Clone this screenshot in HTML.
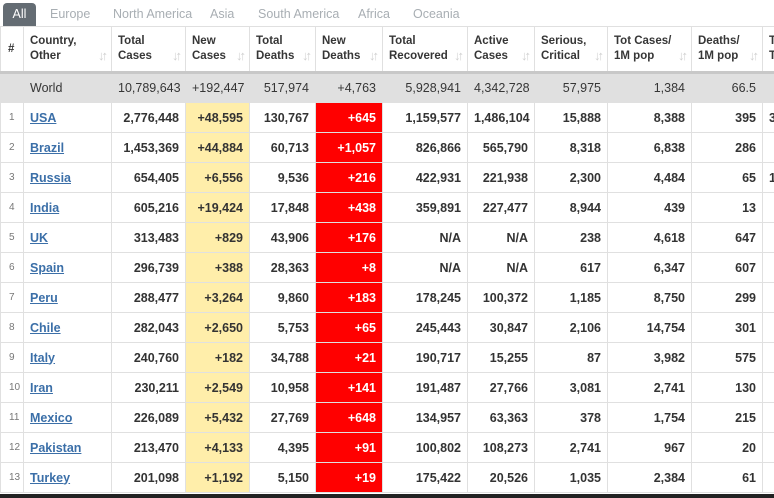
<!DOCTYPE html>
<html><head><meta charset="utf-8"><style>
html,body{margin:0;width:774px;height:498px;overflow:hidden;background:#fff;font-family:"Liberation Sans",Arial,sans-serif;position:relative}
.tabs{position:absolute;top:0;left:0;height:26px;width:774px}
.tab{position:absolute;top:7px;font-size:12.5px;color:#a8aeb3}
.all{position:absolute;left:3px;top:3px;width:33px;height:23px;background:#646c73;border-radius:4px 4px 0 0;color:#fff;font-size:12.5px;text-align:center;line-height:23px}
table{position:absolute;top:26px;left:0;border-collapse:collapse;table-layout:fixed;width:800px}
td,th{border:1px solid #e0e0e0;padding:0 6px;overflow:hidden;white-space:nowrap}
th{height:44px;font-size:11.5px;font-weight:bold;color:#363636;text-align:left;vertical-align:middle;line-height:15px;border-bottom:3px solid #c8c8c8;position:relative}
th .s{position:absolute;right:6px;bottom:8px;color:#d0d0d0;font-size:13px;font-weight:bold;letter-spacing:-3px}
td{height:29px;font-size:12.5px;text-align:right;font-weight:bold;color:#333}
tr.w td{background:#e0e0e0;font-weight:normal;color:#363636;height:28px}
td.n{font-size:10px;color:#777;font-weight:normal;text-align:left;padding-left:8px}
td.c{text-align:left}
td.c a{color:#3b6fa8;text-decoration:underline}
td.y{background:#ffeeaa}
td.r{background:#ff0000;color:#fff}
tr.w td.y,tr.w td.r{background:#e0e0e0;color:#363636}
.bar{position:absolute;left:0;top:494px;width:774px;height:4px;background:#222}
</style></head><body>
<div class="tabs">
<div class="all">All</div>
<div class="tab" style="left:50px">Europe</div>
<div class="tab" style="left:113px">North America</div>
<div class="tab" style="left:210px">Asia</div>
<div class="tab" style="left:258px">South America</div>
<div class="tab" style="left:358px">Africa</div>
<div class="tab" style="left:413px">Oceania</div>
</div>
<table>
<colgroup><col style="width:23px"><col style="width:88px"><col style="width:74px"><col style="width:64px"><col style="width:66px"><col style="width:67px"><col style="width:85px"><col style="width:67px"><col style="width:73px"><col style="width:84px"><col style="width:71px"><col style="width:38px"></colgroup>
<tr><th style="padding-left:7px">#</th><th>Country,<br>Other<span class="s">↓↑</span></th><th>Total<br>Cases<span class="s">↓↑</span></th><th>New<br>Cases<span class="s">↓↑</span></th><th>Total<br>Deaths<span class="s">↓↑</span></th><th>New<br>Deaths<span class="s">↓↑</span></th><th>Total<br>Recovered<span class="s">↓↑</span></th><th>Active<br>Cases<span class="s">↓↑</span></th><th>Serious,<br>Critical<span class="s">↓↑</span></th><th>Tot Cases/<br>1M pop<span class="s">↓↑</span></th><th>Deaths/<br>1M pop<span class="s">↓↑</span></th><th>T<br>T</th></tr>
<tr class="w"><td class="n"></td><td class="c">World</td><td>10,789,643</td><td class="y">+192,447</td><td>517,974</td><td class="r">+4,763</td><td>5,928,941</td><td>4,342,728</td><td>57,975</td><td>1,384</td><td>66.5</td><td></td></tr>
<tr><td class="n">1</td><td class="c"><a>USA</a></td><td>2,776,448</td><td class="y">+48,595</td><td>130,767</td><td class="r">+645</td><td>1,159,577</td><td>1,486,104</td><td>15,888</td><td>8,388</td><td>395</td><td style="text-align:left">3</td></tr>
<tr><td class="n">2</td><td class="c"><a>Brazil</a></td><td>1,453,369</td><td class="y">+44,884</td><td>60,713</td><td class="r">+1,057</td><td>826,866</td><td>565,790</td><td>8,318</td><td>6,838</td><td>286</td><td></td></tr>
<tr><td class="n">3</td><td class="c"><a>Russia</a></td><td>654,405</td><td class="y">+6,556</td><td>9,536</td><td class="r">+216</td><td>422,931</td><td>221,938</td><td>2,300</td><td>4,484</td><td>65</td><td style="text-align:left">1</td></tr>
<tr><td class="n">4</td><td class="c"><a>India</a></td><td>605,216</td><td class="y">+19,424</td><td>17,848</td><td class="r">+438</td><td>359,891</td><td>227,477</td><td>8,944</td><td>439</td><td>13</td><td></td></tr>
<tr><td class="n">5</td><td class="c"><a>UK</a></td><td>313,483</td><td class="y">+829</td><td>43,906</td><td class="r">+176</td><td>N/A</td><td>N/A</td><td>238</td><td>4,618</td><td>647</td><td></td></tr>
<tr><td class="n">6</td><td class="c"><a>Spain</a></td><td>296,739</td><td class="y">+388</td><td>28,363</td><td class="r">+8</td><td>N/A</td><td>N/A</td><td>617</td><td>6,347</td><td>607</td><td></td></tr>
<tr><td class="n">7</td><td class="c"><a>Peru</a></td><td>288,477</td><td class="y">+3,264</td><td>9,860</td><td class="r">+183</td><td>178,245</td><td>100,372</td><td>1,185</td><td>8,750</td><td>299</td><td></td></tr>
<tr><td class="n">8</td><td class="c"><a>Chile</a></td><td>282,043</td><td class="y">+2,650</td><td>5,753</td><td class="r">+65</td><td>245,443</td><td>30,847</td><td>2,106</td><td>14,754</td><td>301</td><td></td></tr>
<tr><td class="n">9</td><td class="c"><a>Italy</a></td><td>240,760</td><td class="y">+182</td><td>34,788</td><td class="r">+21</td><td>190,717</td><td>15,255</td><td>87</td><td>3,982</td><td>575</td><td></td></tr>
<tr><td class="n">10</td><td class="c"><a>Iran</a></td><td>230,211</td><td class="y">+2,549</td><td>10,958</td><td class="r">+141</td><td>191,487</td><td>27,766</td><td>3,081</td><td>2,741</td><td>130</td><td></td></tr>
<tr><td class="n">11</td><td class="c"><a>Mexico</a></td><td>226,089</td><td class="y">+5,432</td><td>27,769</td><td class="r">+648</td><td>134,957</td><td>63,363</td><td>378</td><td>1,754</td><td>215</td><td></td></tr>
<tr><td class="n">12</td><td class="c"><a>Pakistan</a></td><td>213,470</td><td class="y">+4,133</td><td>4,395</td><td class="r">+91</td><td>100,802</td><td>108,273</td><td>2,741</td><td>967</td><td>20</td><td></td></tr>
<tr><td class="n">13</td><td class="c"><a>Turkey</a></td><td>201,098</td><td class="y">+1,192</td><td>5,150</td><td class="r">+19</td><td>175,422</td><td>20,526</td><td>1,035</td><td>2,384</td><td>61</td><td></td></tr>
</table>
<div class="bar"></div>
</body></html>
